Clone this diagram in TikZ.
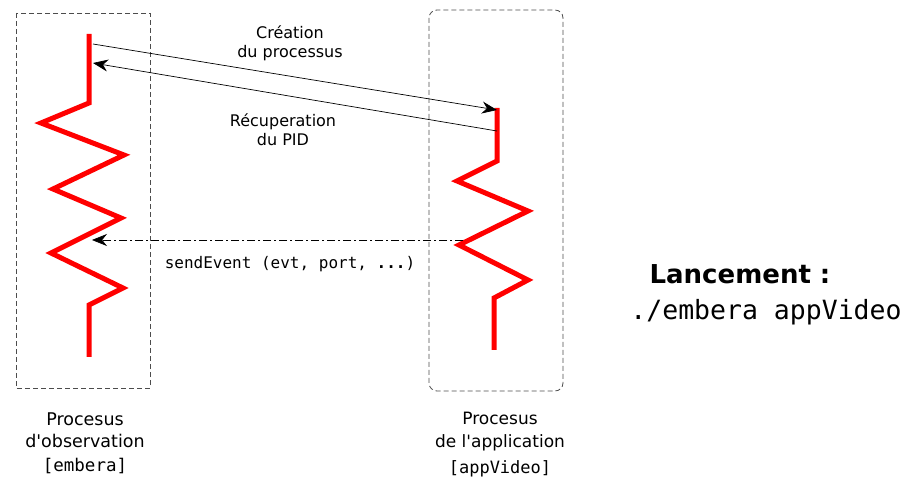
\documentclass[tikz,border=0pt]{standalone}
\usepackage{fontspec}
\setmainfont{DejaVu Sans}
\setmonofont{DejaVu Sans Mono}
\usetikzlibrary{arrows.meta}

\begin{document}
\begin{tikzpicture}[x=1pt, y=-1pt,
  zigzag/.style={red, line width=5pt, line join=miter},
  procbox/.style={black!70, dash pattern=on 5pt off 3pt, line width=0.8pt},
  msg/.style={-{Stealth[length=15pt, width=12pt]}, line width=0.7pt},
  lbl/.style={font=\fontsize{16}{19}\selectfont, align=center}]
  \useasboundingbox (0,0) rectangle (906,481);
  % process boxes
  \draw[procbox] (16,13) rectangle (150,388);
  \draw[procbox, rounded corners=8pt] (429,10) rectangle (563,391);
  % observation process (embera)
  \coordinate (obsTop) at (89,34);
  \coordinate (obsBot) at (89,357);
  \draw[zigzag] (obsTop) -- (89,103) -- (41,123) -- (124,155) -- (53,189)
    -- (121,218) -- (51,253) -- (123,288) -- (89,305) -- (obsBot);
  % application process (appVideo)
  \coordinate (appTop) at (497,108);
  \coordinate (appBot) at (494,350);
  \draw[zigzag] (appTop) -- (497,161) -- (457,181) -- (528,211) -- (459,245)
    -- (528,280) -- (494,298) -- (appBot);
  % message ends
  \coordinate (obsOut) at (93,44);
  \coordinate (obsIn) at (93,63);
  \coordinate (obsEvt) at (92,240);
  \coordinate (appIn) at (497,110);
  \coordinate (appOut) at (497,131);
  \coordinate (appEvt) at (463,240);
  \draw[msg] (obsOut) -- (appIn);
  \draw[msg] (appOut) -- (obsIn);
  \draw[msg, dash pattern=on 8pt off 3pt on 2pt off 3pt] (appEvt) -- (obsEvt);
  % labels
  \node[lbl] (creat) at (290,43.5) {Création\\du processus};
  \node[lbl] (recup) at (283,130) {Récuperation\\du PID};
  \node[font=\ttfamily\fontsize{16}{19}\selectfont] (evt) at (290,264)
    {sendEvent (evt, port, \textbf{...})};
  \node[lbl, font=\fontsize{17.5}{22}\selectfont] (obsName) at (85,443)
    {Procesus\\d\textquotesingle observation\\[2pt]\texttt{[embera]}};
  \node[lbl, font=\fontsize{17}{23}\selectfont] (appName) at (500,445)
    {Procesus\\de l\textquotesingle application\\[3pt]\texttt{[appVideo]}};
  \node[font=\bfseries\fontsize{26}{30}\selectfont] (launch) at (740,274) {Lancement :};
  \node[font=\ttfamily\fontsize{26.5}{30}\selectfont] (cmd) at (766,312) {./embera appVideo};
\end{tikzpicture}
\end{document}
